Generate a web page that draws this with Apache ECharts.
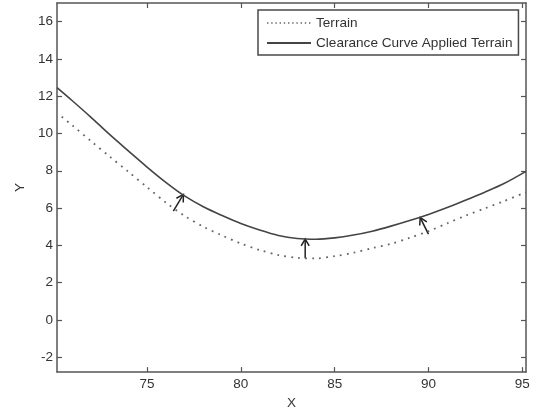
<!DOCTYPE html>
<html>
<head>
<meta charset="utf-8">
<script src="https://cdn.jsdelivr.net/npm/echarts@6/dist/echarts.min.js"></script>
<style>
html,body{margin:0;padding:0;background:#fff;}
#chart{width:537px;height:415px;}
</style>
</head>
<body>
<div id="chart"></div>
<script>
// ---- data ----
const xTicks = [75, 80, 85, 90, 95];
const yTicks = [-2, 0, 2, 4, 6, 8, 10, 12, 14, 16];

const clearanceX = [70.2, 71, 72, 73, 74, 75, 76, 77, 78, 79, 80, 81, 82, 83, 84, 85, 86, 87, 88, 89, 90, 91, 92, 93, 94, 95.2];
const clearanceY = [12.46, 11.77, 10.88, 9.95, 9.07, 8.2, 7.38, 6.65, 6.07, 5.6, 5.17, 4.82, 4.53, 4.37, 4.33, 4.4, 4.55, 4.76, 5.03, 5.33, 5.66, 6.03, 6.43, 6.85, 7.3, 7.97];

const terrainX = [70.45, 71, 72, 73, 74, 75, 76, 77, 78, 79, 80, 81, 82, 83, 84, 85, 86, 87, 88, 89, 90, 91, 92, 93, 94, 95.2];
const terrainY = [10.9, 10.45, 9.6, 8.77, 7.95, 7.12, 6.3, 5.58, 5.0, 4.53, 4.1, 3.75, 3.48, 3.33, 3.3, 3.42, 3.6, 3.85, 4.08, 4.4, 4.76, 5.18, 5.6, 5.98, 6.36, 6.85];

// arrows: tail (on terrain) -> tip (on clearance curve)
const arrowTailX = [76.4, 83.43, 90.0];
const arrowTailY = [5.84, 3.31, 4.6];
const arrowTipX = [76.94, 83.43, 89.56];
const arrowTipY = [6.73, 4.34, 5.49];

const seriesNames = ['Terrain', 'Clearance Curve Applied Terrain'];

// ---- build ----
const zip = (xs, ys) => xs.map((x, i) => [x, ys[i]]);
const arrows = arrowTailX.map((x, i) => [x, arrowTailY[i], arrowTipX[i], arrowTipY[i]]);

const FONT = 'Liberation Sans, Arial, sans-serif';
const AX = '#555';
const TXT = '#333';

const chart = echarts.init(document.getElementById('chart'), null, {renderer: 'canvas'});

const baseX = {
  type: 'value', min: 70.2, max: 95.2,
  axisLine: {show: true, onZero: false, lineStyle: {color: AX, width: 1.5}},
  splitLine: {show: false},
  axisTick: {show: true, inside: true, length: 5, customValues: xTicks, lineStyle: {color: AX, width: 1.2}},
  axisLabel: {show: true, customValues: xTicks, color: TXT, fontFamily: FONT, fontSize: 13.5, margin: 5}
};
const baseY = {
  type: 'value', min: -2.8, max: 17,
  axisLine: {show: true, onZero: false, lineStyle: {color: AX, width: 1.5}},
  splitLine: {show: false},
  axisTick: {show: true, inside: true, length: 5, customValues: yTicks, lineStyle: {color: AX, width: 1.2}},
  axisLabel: {show: true, customValues: yTicks, color: TXT, fontFamily: FONT, fontSize: 13.5, margin: 4}
};

const option = {
  animation: false,
  backgroundColor: '#fff',
  grid: {left: 57, right: 11, top: 3, bottom: 42, containLabel: false},
  xAxis: [
    Object.assign({}, baseX, {position: 'bottom', name: 'X', nameLocation: 'middle', nameGap: 22,
      nameTextStyle: {color: TXT, fontFamily: FONT, fontSize: 13.5}}),
    Object.assign({}, baseX, {position: 'top', axisLabel: {show: false}})
  ],
  yAxis: [
    Object.assign({}, baseY, {position: 'left', name: 'Y', nameLocation: 'middle', nameGap: 29, nameRotate: 90,
      nameTextStyle: {color: TXT, fontFamily: FONT, fontSize: 13.5}}),
    Object.assign({}, baseY, {position: 'right', axisLabel: {show: false}})
  ],
  legend: {
    show: true,
    orient: 'vertical',
    left: 258, top: 10,
    padding: [6, 6, 5, 8],
    itemGap: 6,
    itemWidth: 44, itemHeight: 14,
    borderColor: '#4a4a4a', borderWidth: 1.5,
    backgroundColor: '#fff',
    itemStyle: {opacity: 0},
    textStyle: {color: TXT, fontFamily: FONT, fontSize: 13.6},
    data: [
      {name: seriesNames[0], lineStyle: {type: [1.4, 2.8], width: 1.3}},
      {name: seriesNames[1]}
    ]
  },
  series: [
    {
      name: seriesNames[0], type: 'line', xAxisIndex: 0, yAxisIndex: 0,
      data: zip(terrainX, terrainY), showSymbol: false, symbol: 'none', smooth: 0.3,
      lineStyle: {color: '#666', width: 1.8, type: [1.8, 5.2]}, itemStyle: {color: '#666'}
    },
    {
      name: seriesNames[1], type: 'line', xAxisIndex: 0, yAxisIndex: 0,
      data: zip(clearanceX, clearanceY), showSymbol: false, symbol: 'none', smooth: 0.3,
      lineStyle: {color: '#444', width: 1.6, type: 'solid'}, itemStyle: {color: '#444'}
    },
    {
      name: 'arrows', type: 'custom', xAxisIndex: 0, yAxisIndex: 0,
      data: arrows, encode: {x: [0, 2], y: [1, 3]}, silent: true,
      renderItem: function (params, api) {
        const p0 = api.coord([api.value(0), api.value(1)]);
        const p1 = api.coord([api.value(2), api.value(3)]);
        const dx = p1[0] - p0[0], dy = p1[1] - p0[1];
        const len = Math.sqrt(dx * dx + dy * dy) || 1;
        const ux = dx / len, uy = dy / len;
        const hl = 8, ang = Math.PI / 6;
        const c = Math.cos(ang), s = Math.sin(ang);
        const l1 = [p1[0] - hl * (ux * c - uy * s), p1[1] - hl * (uy * c + ux * s)];
        const l2 = [p1[0] - hl * (ux * c + uy * s), p1[1] - hl * (uy * c - ux * s)];
        const st = {stroke: '#222', lineWidth: 1.5, fill: null};
        return {
          type: 'group',
          children: [
            {type: 'polyline', shape: {points: [p0, p1]}, style: st},
            {type: 'polyline', shape: {points: [l1, p1, l2]}, style: st}
          ]
        };
      }
    }
  ]
};
chart.setOption(option);
</script>
</body>
</html>
